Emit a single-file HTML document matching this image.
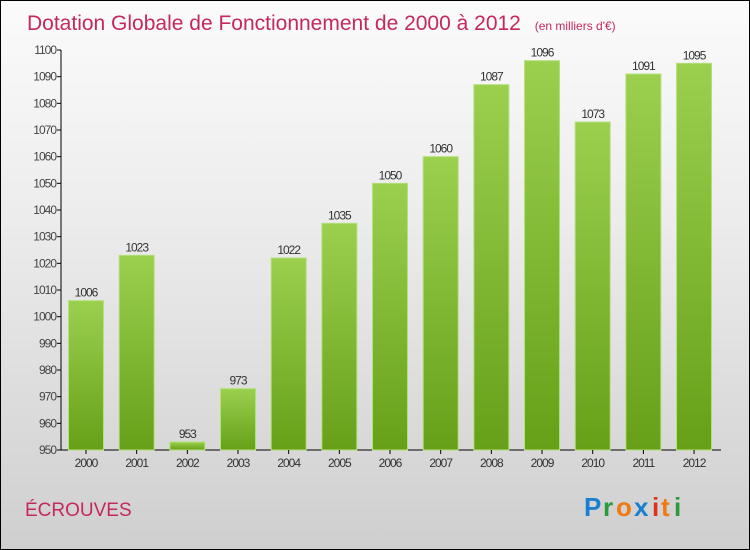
<!DOCTYPE html>
<html><head><meta charset="utf-8"><style>
body{margin:0}
#c{position:relative;width:748px;height:548px;border:1px solid #000;background:linear-gradient(#fbfbfb,#ececec 40%,#cfcfcf);font-family:"Liberation Sans",sans-serif;overflow:hidden}
</style></head><body>
<div id="c">
<svg id="s" width="748" height="548">
<defs><linearGradient id="g" x1="0" y1="0" x2="0" y2="1"><stop offset="0" stop-color="#9bd04f"/><stop offset="1" stop-color="#66a018"/></linearGradient></defs>
<text x="26" y="29" font-size="21" fill="#c4285d">Dotation Globale de Fonctionnement de 2000 à 2012 <tspan font-size="12" dx="8">(en milliers d'€)</tspan></text>
<text x="24" y="515" font-size="19" fill="#c4285d">ÉCROUVES</text>
<g font-size="26" font-weight="bold"><text x="583" y="515" fill="#1a7fd0">P</text><text x="602" y="515" fill="#2a9a3a">r</text><text x="615" y="515" fill="#f07a10">o</text><text x="633" y="515" fill="#1a7fd0">x</text><text x="651" y="515" fill="#e03020">i</text><text x="660" y="515" fill="#f07a10">t</text><text x="673" y="515" fill="#2a9a3a">i</text></g>
<g id="plot"></g>
</svg></div>
<script>
const years=["2000","2001","2002","2003","2004","2005","2006","2007","2008","2009","2010","2011","2012"];
const values=[1006,1023,953,973,1022,1035,1050,1060,1087,1096,1073,1091,1095];
const ticks=[950,960,970,980,990,1000,1010,1020,1030,1040,1050,1060,1070,1080,1090,1100];
const ns="http://www.w3.org/2000/svg",p=document.getElementById('plot');
const y=v=>449-(v-950)*400/150, x=i=>85+i*50.67;
function el(t,a){const e=document.createElementNS(ns,t);for(const k in a)e.setAttribute(k,a[k]);p.appendChild(e);return e;}
let ax=el('line',{x1:60,y1:49,x2:60,y2:449,stroke:'#000'});


let bx=el('line',{x1:60,y1:449,x2:720,y2:449,stroke:'#000'});


ticks.forEach(t=>{const l=el('line',{x1:56,x2:60,y1:y(t),y2:y(t),stroke:'#000'});


const tx=el('text',{x:55,y:y(t)+4,'font-size':12,fill:'#444','text-anchor':'end','letter-spacing':'-1'});tx.textContent=t;

});
values.forEach((v,i)=>{const r=el('rect',{x:x(i)-17.5,y:y(v),width:35,height:449-y(v),fill:'url(#g)',stroke:'#b5e07a','stroke-width':1});


const t=el('text',{x:x(i),y:y(v)-4,'font-size':12,fill:'#333','text-anchor':'middle','letter-spacing':'-1'});t.textContent=v;


const k=el('line',{x1:x(i),x2:x(i),y1:449,y2:453,stroke:'#000'});


const yl=el('text',{x:x(i),y:466,'font-size':12,fill:'#333','text-anchor':'middle','letter-spacing':'-1'});yl.textContent=years[i];

});
</script>
</body></html>
